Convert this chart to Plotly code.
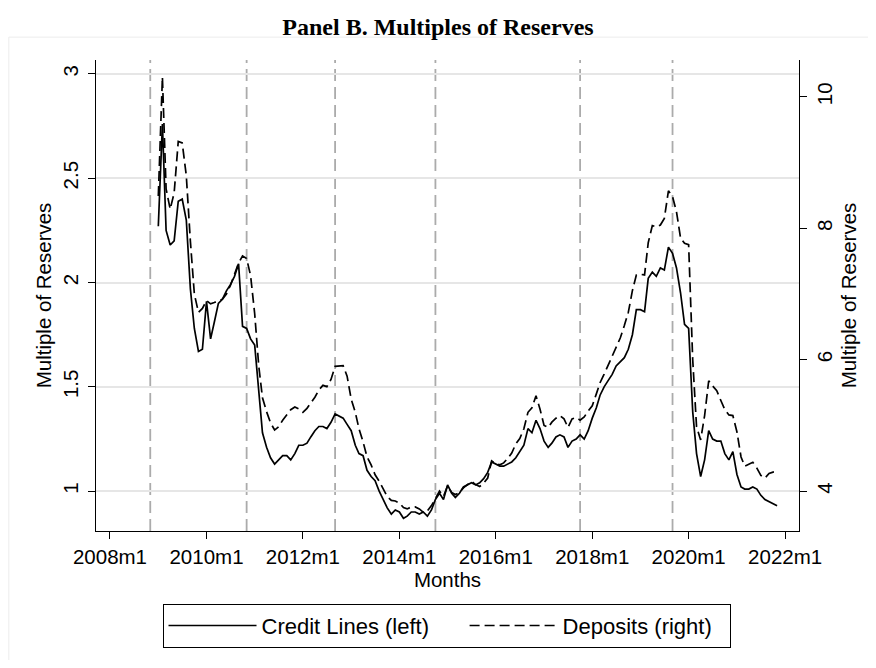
import plotly.graph_objects as go
import pandas as pd

# ---- data (monthly, 2009m1 .. 2021m11) ----
months = pd.date_range("2009-01-01", "2021-11-01", freq="MS")

credit_lines = [
    2.27, 2.76, 2.25, 2.18, 2.20, 2.39, 2.40, 2.30, 1.97, 1.78,
    1.67, 1.68, 1.91, 1.73, 1.81, 1.90, 1.92, 1.96, 1.99, 2.03,
    2.09, 1.79, 1.78, 1.73, 1.70, 1.49, 1.28, 1.21, 1.16, 1.13,
    1.15, 1.17, 1.17, 1.15, 1.18, 1.22, 1.22, 1.23, 1.26, 1.29,
    1.31, 1.31, 1.30, 1.33, 1.37, 1.36, 1.35, 1.32, 1.29, 1.22,
    1.18, 1.17, 1.10, 1.07, 1.05, 1.00, 0.96, 0.92, 0.89, 0.91,
    0.90, 0.87, 0.88, 0.90, 0.90, 0.89, 0.90, 0.88, 0.91, 0.96,
    0.99, 0.96, 1.03, 0.99, 0.97, 0.99, 1.02, 1.03, 1.04, 1.03,
    1.04, 1.06, 1.09, 1.14, 1.13, 1.12, 1.12, 1.13, 1.14, 1.16,
    1.19, 1.22, 1.30, 1.28, 1.34, 1.30, 1.24, 1.21, 1.23, 1.26,
    1.27, 1.26, 1.21, 1.24, 1.25, 1.27, 1.25, 1.29, 1.35, 1.40,
    1.46, 1.50, 1.53, 1.56, 1.60, 1.62, 1.64, 1.68, 1.75, 1.87,
    1.87, 1.86, 2.02, 2.05, 2.03, 2.07, 2.06, 2.17, 2.14, 2.07,
    1.95, 1.80, 1.78, 1.38, 1.18, 1.07, 1.15, 1.29, 1.25, 1.24,
    1.24, 1.18, 1.15, 1.19, 1.08, 1.02, 1.01, 1.01, 1.02, 1.01,
    0.98, 0.96, 0.95, 0.94, 0.93,
]

deposits = [
    8.49, 10.30, 8.60, 8.29, 8.54, 9.32, 9.30, 8.80, 7.80, 7.00,
    6.72, 6.78, 6.90, 6.85, 6.87, 6.90, 6.92, 7.00, 7.13, 7.30,
    7.47, 7.58, 7.54, 7.28, 6.70, 5.90, 5.42, 5.21, 5.04, 4.93,
    4.98, 5.08, 5.16, 5.24, 5.28, 5.25, 5.20, 5.26, 5.34, 5.43,
    5.54, 5.61, 5.59, 5.70, 5.90, 5.91, 5.91, 5.75, 5.40, 5.20,
    4.95, 4.75, 4.52, 4.40, 4.25, 4.15, 4.02, 3.92, 3.86, 3.85,
    3.82, 3.75, 3.73, 3.76, 3.76, 3.73, 3.68, 3.70, 3.78, 3.88,
    4.00, 3.92, 4.08, 3.98, 3.95, 3.98, 4.05, 4.10, 4.15, 4.10,
    4.07, 4.12, 4.20, 4.46, 4.42, 4.40, 4.43, 4.50, 4.58, 4.72,
    4.80, 4.95, 5.20, 5.27, 5.45, 5.25, 5.00, 4.97, 5.05, 5.11,
    5.15, 5.10, 4.97, 5.10, 5.12, 5.08, 5.13, 5.22, 5.30, 5.48,
    5.65, 5.78, 5.91, 6.07, 6.20, 6.33, 6.52, 6.72, 7.05, 7.29,
    7.30, 7.29, 7.78, 8.04, 8.02, 8.05, 8.15, 8.57, 8.48, 8.25,
    7.85, 7.77, 7.75, 6.00, 4.98, 4.78, 5.15, 5.68, 5.60, 5.53,
    5.38, 5.24, 5.16, 5.15, 4.90, 4.52, 4.38, 4.41, 4.44, 4.35,
    4.24, 4.20, 4.27, 4.29, 4.30,
]

event_months = ["2008-11-01", "2010-11-01", "2012-09-01",
                "2014-10-01", "2017-10-01", "2019-09-01"]

xtick_vals = ["2008-01-01", "2010-01-01", "2012-01-01", "2014-01-01",
              "2016-01-01", "2018-01-01", "2020-01-01", "2022-01-01"]
xtick_text = ["2008m1", "2010m1", "2012m1", "2014m1",
              "2016m1", "2018m1", "2020m1", "2022m1"]
left_ticks = [1, 1.5, 2, 2.5, 3]
left_tick_text = ["1", "1.5", "2", "2.5", "3"]
right_ticks = [4, 6, 8, 10]
right_tick_text = ["4", "6", "8", "10"]
series_names = ["Credit Lines (left)", "Deposits (right)"]

SANS = "Liberation Sans, Arial, Helvetica, sans-serif"
SERIF = "Liberation Serif, Times New Roman, serif"

W, H = 860, 652  # page body adds an 8px margin around the figure
GAP = "\u00a0" * 5   # spacing between the two legend entries
TAIL = "\u00a0" * 2  # right padding inside the legend box

fig = go.Figure()
fig.add_trace(go.Scatter(
    x=months, y=credit_lines, mode="lines", name=series_names[0] + GAP,
    line=dict(color="black", width=1.7), yaxis="y"))
fig.add_trace(go.Scatter(
    x=months, y=deposits, mode="lines", name=series_names[1] + TAIL,
    line=dict(color="black", width=1.7, dash="10px,5px"), yaxis="y2"))

shapes = []
for d in event_months:
    shapes.append(dict(type="line", xref="x", yref="paper", x0=d, x1=d,
                       y0=0, y1=1, layer="below",
                       line=dict(color="#ababab", width=1.8, dash="12px,6px")))
# faint outer graph-region border
shapes.append(dict(type="rect", xref="paper", yref="paper",
                   x0=-0.124, x1=1.3, y0=-0.5, y1=1.0486,
                   line=dict(color="#ececec", width=1), layer="below"))

fig.update_layout(
    width=W, height=H, autosize=False,
    margin=dict(l=88, r=62, t=52, b=127),
    paper_bgcolor="white", plot_bgcolor="white",
    font=dict(family=SANS, size=20, color="black"),
    title=dict(text="<b>Panel B. Multiples of Reserves</b>",
               x=0.5, xanchor="center", y=1 - 19 / H, yanchor="middle",
               font=dict(family=SERIF, size=24, color="black")),
    xaxis=dict(type="date", range=["2007-09-17", "2022-04-16"],
               tickmode="array", tickvals=xtick_vals, ticktext=xtick_text,
               ticks="outside", ticklen=7, tickwidth=1.3, tickcolor="black",
               showline=True, linecolor="black", linewidth=1.3,
               showgrid=False, zeroline=False,
               tickfont=dict(size=20.5),
               title=dict(text="Months", font=dict(size=20.5), standoff=2)),
    yaxis=dict(range=[0.809, 3.067], tickmode="array",
               tickvals=left_ticks, ticktext=left_tick_text, tickangle=-90,
               ticks="outside", ticklen=7, tickwidth=1.3, tickcolor="black",
               ticklabelstandoff=2,
               showline=True, linecolor="black", linewidth=1.3,
               showgrid=True, gridcolor="#e6e6e6", gridwidth=1.5,
               zeroline=False, tickfont=dict(size=20.5),
               title=dict(text="Multiple of Reserves", font=dict(size=20.5),
                          standoff=1)),
    yaxis2=dict(range=[3.394, 10.56], overlaying="y", side="right",
                tickmode="array", tickvals=right_ticks,
                ticktext=right_tick_text, tickangle=-90,
                ticks="outside", ticklen=7, tickwidth=1.3, tickcolor="black",
                showline=True, linecolor="black", linewidth=1.3,
                showgrid=False, zeroline=False, tickfont=dict(size=20.5),
                title=dict(text="Multiple of Reserves", font=dict(size=20.5),
                           standoff=6)),
    legend=dict(orientation="h", x=0.4986, xanchor="center",
                y=-0.1543, yanchor="top",
                bordercolor="black", borderwidth=1, bgcolor="white",
                font=dict(size=22), itemwidth=88),
    shapes=shapes,
)

fig.write_html("out.html")
